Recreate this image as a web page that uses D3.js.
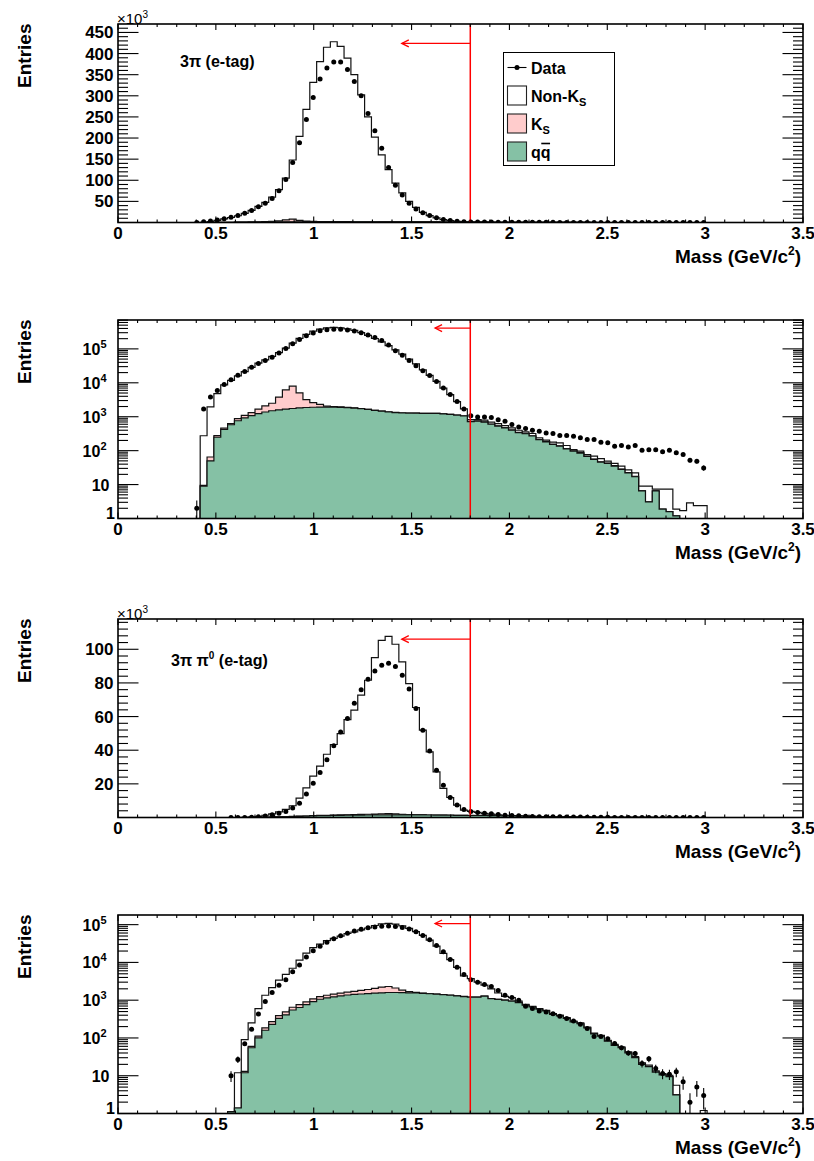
<!DOCTYPE html>
<html><head><meta charset="utf-8">
<script src="https://cdn.jsdelivr.net/npm/d3@7"></script>
<style>
body{margin:0;background:#fff}
svg text{font-family:"Liberation Sans",Arial,Helvetica,sans-serif;font-weight:bold;fill:#000}
</style>
</head><body>
<svg id="c" width="814" height="1161"></svg>
<script>
// ---------------- DATA ----------------
const binWidth = 0.035;          // GeV/c^2 per bin (100 bins over 0-3.5)
const cutMass = 1.8;

// Sample A: 3π (e-tag), bins 11..85
const startBinA = 11;
const dataA = [2,1700,3800,5900,8900,12300,16600,21700,28500,37000,45500,57000,75000,102000,142000,189000,244000,296000,340000,366000,380000,380000,362000,334000,300000,258000,217000,176000,130000,88000,65000,45500,32000,22800,16300,11000,7000,4500,2800,1700,1075,985,980,950,820,733,590,500,447,400,374,333,318,279,279,266,239,213,213,178,170,135,143,129,141,103,106,106,93,103,87,77,52,49,31];
const qqA = [0,9,50,250,420,580,760,920,1080,1230,1380,1500,1600,1680,1750,1820,1870,1900,1920,1930,1920,1890,1850,1790,1730,1640,1540,1460,1380,1330,1290,1280,1270,1260,1260,1250,1210,1170,1120,1050,720,735,690,600,530,470,400,340,315,270,210,180,152,136,113,97,85,68,55,46,42,35,28,22,17,6.5,3.1,6.5,1.9,1.6,1.2,0,0,0,0];
const ksA = [0,0.5,15,30,40,50,120,180,250,450,700,1000,2200,4500,6200,3200,1330,700,380,120,70,50,40,30,20,15,10,10,10,10,8,8,8,6,6,6,5,5,5,5,15,15,12,10,10,8,8,6,6,5,4,4,3,3,2,2,2,1,1,1,1,1,0.5,0.5,0.5,0,0,0,0,0,0,0,0,0,0];
const nonKsA = [0,265,1885,4520,8240,11170,15120,20400,27170,36320,45420,57500,74200,98820,140050,198980,264800,329400,378700,412950,426010,415060,387110,348180,300250,248345,200450,158530,123610,91660,68700,48710,34720,22730,15230,9740,5785,3325,1675,645,90,75,88,80,90,72,62,54,36,45,26,21,23,31,27,9,10,8,13,11,6,6,6.5,4.5,4.5,2.5,5.9,0.8,5.4,5.7,0.7,1.7,2.9,2.4,2.4];

// Sample B: 3π π0 (e-tag), bins 16..85
const startBinB = 16;
const dataB = [10,27,70,170,430,920,1600,2500,3500,5700,8500,13900,20400,26800,34300,42600,50900,58800,67900,75900,82200,87100,90500,91700,89700,84600,76400,64800,51900,39600,28100,19200,11900,7400,4800,3500,3000,2600,2300,1800,1350,1170,1000,690,600,520,490,440,375,325,280,230,177,110,110,96,71,55,40,39,21,28,15.5,11.4,11,12.7,6.9,2,5,3];
const qqB = [1.1,1.4,12,55,100,160,230,330,410,550,640,760,920,1060,1150,1230,1300,1370,1420,1460,1500,1540,1570,1600,1600,1590,1570,1550,1520,1480,1440,1400,1350,1300,1250,1200,1200,1280,1100,1050,1000,950,860,740,660,580,520,420,385,330,268,238,185,128,112,82,64,55,40,30,20,17.5,12.5,10.5,9.5,3.1,0,0,0,0];
const ksB = [0,0,1,5,12,25,40,60,80,100,120,140,160,180,200,220,240,260,300,350,420,520,650,700,500,250,120,60,30,15,10,8,6,5,5,5,4,4,3,3,3,2,2,2,1,1,0,0,0,0,0,0,0,0,0,0,0,0,0,0,0,0,0,0,0,0,0,0,0,0];
const nonKsB = [0,10.6,77,190,488,1165,1880,3010,4310,6350,10740,16700,23520,29260,36250,41950,48360,56570,62080,70890,79680,92940,103080,105400,100900,90660,77910,63790,50350,37505,25650,15892,10544,6095,3145,2495,1796,1216,897,497,257,218,88,38,29,19,20,20,15,15,12,12,10,7,6,5,4,3,3,2,2,1.5,1,0.9,0.8,2.5,0,0,0,1.2];

// Axis ticks / labels
const xTickValues = [0,0.5,1,1.5,2,2.5,3,3.5];
const xTickLabels = ["0","0.5","1","1.5","2","2.5","3","3.5"];
const yTicksA = [50000,100000,150000,200000,250000,300000,350000,400000,450000];
const yLabelsA = ["50","100","150","200","250","300","350","400","450"];
const yTicksB = [20000,40000,60000,80000,100000];
const yLabelsB = ["20","40","60","80","100"];
const logDecades = [1,10,100,1000,10000,100000];
const logExponents = ["0","1","2","3","4","5"];
const legendLabels = ["Data","Non-K","K","qq"];
const legendSubs = ["","S","S",""];
const titleA = "3π (e-tag)";

// ---------------- STYLE / LAYOUT ----------------
const GREEN = "#85c1a5", PINK = "#ffcccc";
const frameL = 118, frameR = 803, frameH = 198.5;
const panels = [
  {top:24,  log:false, domain:[0,470000], sample:"A", ticks:yTicksA, labels:yLabelsA, minor:10000, arrowEnd:1.45, arrowY:424000, exp:true, legend:true, title:"A"},
  {top:320, log:true,  domain:[1,7.1e5],  sample:"A", arrowEnd:1.62, arrowY:4.1e5},
  {top:619, log:false, domain:[0,118000], sample:"B", ticks:yTicksB, labels:yLabelsB, minor:4000, arrowEnd:1.45, arrowY:106000, exp:true, title:"B"},
  {top:915, log:true,  domain:[1,1.8e5],  sample:"B", arrowEnd:1.62, arrowY:1.07e5}
];
const samples = {
  A:{start:startBinA, data:dataA, qq:qqA, ks:ksA, nonKs:nonKsA},
  B:{start:startBinB, data:dataB, qq:qqB, ks:ksB, nonKs:nonKsB}
};

const svg = d3.select("#c");
const x = d3.scaleLinear().domain([0,3.5]).range([frameL, frameR]);
const fills = {qq:GREEN, ks:PINK, nonKs:"#ffffff"};

panels.forEach((p, pi) => {
  const bottom = p.top + frameH;
  const y = (p.log ? d3.scaleLog() : d3.scaleLinear()).domain(p.domain).range([bottom, p.top]);
  const floor = p.domain[0];
  const yv = v => y(Math.max(v, floor));
  const g = svg.append("g");

  svg.append("clipPath").attr("id","clip"+pi).append("rect")
    .attr("x",frameL).attr("y",p.top).attr("width",frameR-frameL).attr("height",frameH);
  const plot = g.append("g").attr("clip-path",`url(#clip${pi})`);

  // stacked MC histograms
  const s = samples[p.sample];
  const rows = s.qq.map((_, i) => ({bin:s.start+i, qq:s.qq[i], ks:s.ks[i], nonKs:s.nonKs[i]}));
  const stacked = d3.stack().keys(["qq","ks","nonKs"])(rows);
  stacked.slice().reverse().forEach(series => {
    const pts = [[x(rows[0].bin*binWidth), yv(0)]];
    series.forEach((d, i) => {
      const b = rows[i].bin, yy = yv(d[1]);
      pts.push([x(b*binWidth), yy], [x((b+1)*binWidth), yy]);
    });
    pts.push([x((rows[rows.length-1].bin+1)*binWidth), yv(0)]);
    plot.append("path").attr("d", d3.line()(pts) + "Z")
      .attr("fill", fills[series.key]).attr("stroke","#111").attr("stroke-width",1.2)
      .attr("stroke-linejoin","miter");
  });

  // data points with Poisson error bars
  s.data.forEach((v, i) => {
    const b = s.start + i, cx = x((b+0.5)*binWidth), e = Math.sqrt(v);
    plot.append("line").attr("x1",cx).attr("x2",cx).attr("y1",yv(v-e)).attr("y2",yv(v+e))
      .attr("stroke","#000").attr("stroke-width",1.1);
    plot.append("circle").attr("cx",cx).attr("cy",yv(v)).attr("r",2.5).attr("fill","#000");
  });

  // cut line + arrow
  const xc = x(cutMass);
  g.append("line").attr("x1",xc).attr("x2",xc).attr("y1",p.top).attr("y2",bottom)
    .attr("stroke","#ff0000").attr("stroke-width",1.5);
  const ya = y(p.arrowY), xt = x(p.arrowEnd);
  g.append("line").attr("x1",xc).attr("x2",xt).attr("y1",ya).attr("y2",ya)
    .attr("stroke","#ff0000").attr("stroke-width",1.3);
  g.append("path").attr("d",`M${xt+7},${ya-3.5}L${xt},${ya}L${xt+7},${ya+3.5}`)
    .attr("fill","none").attr("stroke","#ff0000").attr("stroke-width",1.3);

  // frame
  g.append("rect").attr("x",frameL).attr("y",p.top).attr("width",frameR-frameL).attr("height",frameH)
    .attr("fill","none").attr("stroke","#000").attr("stroke-width",1.6);

  const tickG = g.append("g").attr("stroke","#000").attr("stroke-width",1.1);
  // x ticks (bottom + top)
  d3.range(0, 3.5001, 0.1).forEach(v => {
    const major = xTickValues.some(t => Math.abs(t - v) < 1e-6);
    const len = major ? 6 : 3, xx = x(v);
    tickG.append("line").attr("x1",xx).attr("x2",xx).attr("y1",bottom).attr("y2",bottom-len);
    tickG.append("line").attr("x1",xx).attr("x2",xx).attr("y1",p.top).attr("y2",p.top+len);
  });
  xTickValues.forEach((v, i) => {
    g.append("text").attr("x",x(v)).attr("y",bottom+16).attr("text-anchor","middle")
      .attr("font-size",17).text(xTickLabels[i]);
  });
  // y ticks
  const yTick = (yy, len) => {
    tickG.append("line").attr("x1",frameL).attr("x2",frameL+len).attr("y1",yy).attr("y2",yy);
    tickG.append("line").attr("x1",frameR).attr("x2",frameR-len).attr("y1",yy).attr("y2",yy);
  };
  if (!p.log) {
    d3.range(p.minor, p.domain[1], p.minor).forEach(v => {
      const major = p.ticks.some(t => Math.abs(t - v) < 1);
      yTick(y(v), major ? 20.5 : 10);
    });
    p.ticks.forEach((v, i) => {
      g.append("text").attr("x",113.5).attr("y",y(v)+6).attr("text-anchor","end")
        .attr("font-size",17).text(p.labels[i]);
    });
  } else {
    logDecades.forEach((d, i) => {
      yTick(y(d), 20.5);
      d3.range(2, 10).forEach(k => { if (d*k <= p.domain[1]) yTick(y(d*k), 10); });
      const t = g.append("text").attr("text-anchor","end").attr("font-size",16);
      if (i === 0) t.attr("x",115).attr("y",y(d)+0.5).text("1");
      else if (i === 1) t.attr("x",109.5).attr("y",y(d)+6).text("10");
      else {
        t.attr("x",106.5).attr("y",y(d)+6);
        t.append("tspan").text("10");
        t.append("tspan").attr("font-size",11).attr("dy",-7).text(logExponents[i]);
      }
    });
  }
  if (p.exp) {
    const t = g.append("text").attr("x",117).attr("y",p.top-0.5).attr("font-size",15).attr("font-weight","normal");
    t.append("tspan").attr("font-weight","normal").text("×10");
    t.append("tspan").attr("font-size",10).attr("dy",-6).attr("font-weight","normal").text("3");
  }

  // axis titles
  g.append("text").attr("transform",`translate(30.5,${p.top-0.5}) rotate(-90)`)
    .attr("text-anchor","end").attr("font-size",19).text("Entries");
  const mt = g.append("text").attr("x",801).attr("y",bottom+40).attr("text-anchor","end").attr("font-size",19);
  mt.append("tspan").text("Mass (GeV/c");
  mt.append("tspan").attr("font-size",12).attr("dy",-8).text("2");
  mt.append("tspan").attr("dy",8).text(")");

  // titles
  if (p.title === "A") {
    g.append("text").attr("x",180).attr("y",p.top+43).attr("font-size",16).text(titleA);
  }
  if (p.title === "B") {
    const t = g.append("text").attr("x",171).attr("y",p.top+47).attr("font-size",16);
    t.append("tspan").text("3π π");
    t.append("tspan").attr("font-size",10).attr("dy",-7).text("0");
    t.append("tspan").attr("dy",7).text(" (e-tag)");
  }

  // legend
  if (p.legend) {
    const lg = g.append("g");
    lg.append("rect").attr("x",503.5).attr("y",52.5).attr("width",111).attr("height",113)
      .attr("fill","#fff").attr("stroke","#000").attr("stroke-width",1);
    const legFill = [null, "#ffffff", PINK, GREEN];
    legendLabels.forEach((lab, i) => {
      const cy = 67.5 + 28*i;
      if (i === 0) {
        lg.append("line").attr("x1",507.5).attr("x2",526.5).attr("y1",cy).attr("y2",cy)
          .attr("stroke","#000").attr("stroke-width",1.1);
        lg.append("circle").attr("cx",517).attr("cy",cy).attr("r",2.5).attr("fill","#000");
      } else {
        lg.append("rect").attr("x",507.5).attr("y",cy-9.5).attr("width",19).attr("height",19)
          .attr("fill",legFill[i]).attr("stroke","#222").attr("stroke-width",1.1);
      }
      const t = lg.append("text").attr("x",531).attr("y",cy+6).attr("font-size",16);
      t.append("tspan").text(lab);
      if (legendSubs[i]) t.append("tspan").attr("font-size",11).attr("dy",4).text(legendSubs[i]);
      if (i === 3) {
        const w = t.node().getComputedTextLength() / 2;
        lg.append("line").attr("x1",531 + w + 0.5).attr("x2",531 + 2*w - 0.5)
          .attr("y1",cy-8).attr("y2",cy-8).attr("stroke","#000").attr("stroke-width",1.6);
      }
    });
  }
});
</script>
</body></html>
